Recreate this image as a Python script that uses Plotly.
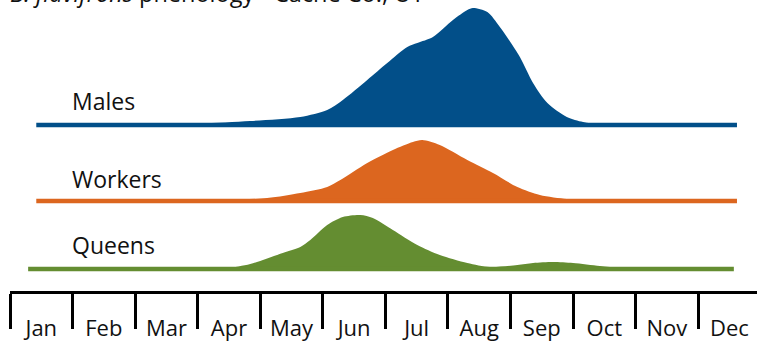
import plotly.graph_objects as go

# ---- data (x in months from Jan 1, heights in relative abundance units) ----
months = ["Jan", "Feb", "Mar", "Apr", "May", "Jun", "Jul", "Aug", "Sep", "Oct", "Nov", "Dec"]

males_x = [0.42, 2.24, 3.04, 3.84, 4.64, 5.07, 5.32, 5.71, 6.03, 6.35, 6.51, 6.76, 7.08, 7.31,
           7.40, 7.63, 7.83, 8.15, 8.36, 8.59, 8.90, 9.16, 9.43, 11.62]
males_y = [0, 0.5, 1.5, 4, 8, 15, 25, 45, 62, 78, 82, 88, 105, 115,
           117, 113, 98, 68, 42, 22, 8, 3, 1, 0]

workers_x = [0.42, 3.04, 4.11, 4.64, 5.07, 5.28, 5.71, 6.12, 6.44, 6.59, 6.87, 7.31, 7.72,
             8.11, 8.47, 8.90, 9.16, 11.62]
workers_y = [0, 0.5, 3, 8, 14, 21, 38, 51, 59, 61, 56, 41, 28, 14, 6, 2, 1, 0]

queens_x = [0.29, 3.04, 3.47, 3.84, 4.36, 4.64, 4.80, 5.07, 5.32, 5.60, 5.80, 6.12, 6.51,
            6.87, 7.31, 7.67, 8.11, 8.36, 8.68, 9.00, 9.43, 9.75, 10.23, 11.57]
queens_y = [0, 0, 1, 5, 16, 22, 29, 44, 52, 54, 51, 39, 24, 14, 6, 2, 4, 6, 7, 6, 3, 1, 0, 0]

series = [
    ("Males", males_x, males_y, "#024f89"),
    ("Workers", workers_x, workers_y, "#dc661f"),
    ("Queens", queens_x, queens_y, "#648d31"),
]

# ---- layout constants ----
baselines = {"Males": 166, "Workers": 90, "Queens": 22}
label_y = {"Males": 190, "Workers": 112, "Queens": 46}
FONT = "Open Sans"

fig = go.Figure()
for name, xs, ys, color in series:
    base = baselines[name]
    fig.add_trace(go.Scatter(
        x=[xs[0], xs[-1]], y=[base, base], mode="lines",
        line=dict(color=color, width=4.5), hoverinfo="skip", showlegend=False))
    fig.add_trace(go.Scatter(
        x=xs, y=[base + v for v in ys], mode="lines",
        line=dict(color=color, width=0, shape="spline", smoothing=0.8),
        fill="tonexty", fillcolor=color, hoverinfo="skip", showlegend=False))
    fig.add_annotation(x=0.96, y=label_y[name], xref="x", yref="y", text=name,
                       showarrow=False, xanchor="left", yanchor="middle",
                       font=dict(family=FONT, size=23, color="#111111"))

fig.add_annotation(x=-0.003, y=0.962, xref="paper", yref="paper",
                   text="<i>B. flavifrons</i> phenology - Cache Co., UT",
                   showarrow=False, xanchor="left", yanchor="bottom",
                   font=dict(family=FONT, size=23.5, color="#111111"))

fig.update_layout(
    width=757, height=341,
    margin=dict(l=10, r=0, t=0, b=50),
    plot_bgcolor="white", paper_bgcolor="white",
    xaxis=dict(
        range=[0, 11.94], showgrid=False, zeroline=False, automargin=False,
        showline=True, linecolor="black", linewidth=3,
        tickmode="array", tickvals=[i + 0.5 for i in range(12)], ticktext=months,
        ticks="outside", ticklen=16, tickcolor="rgba(0,0,0,0)",
        tickfont=dict(family=FONT, size=22, color="#111111"),
        minor=dict(tickmode="array", tickvals=list(range(12)), ticks="outside",
                   ticklen=35, tickwidth=3, tickcolor="black", showgrid=False),
        fixedrange=True,
    ),
    yaxis=dict(range=[0, 291], visible=False, fixedrange=True, automargin=False),
)

fig.write_html("out.html", config={"displayModeBar": False},
               post_script="document.body.style.margin='0';")
